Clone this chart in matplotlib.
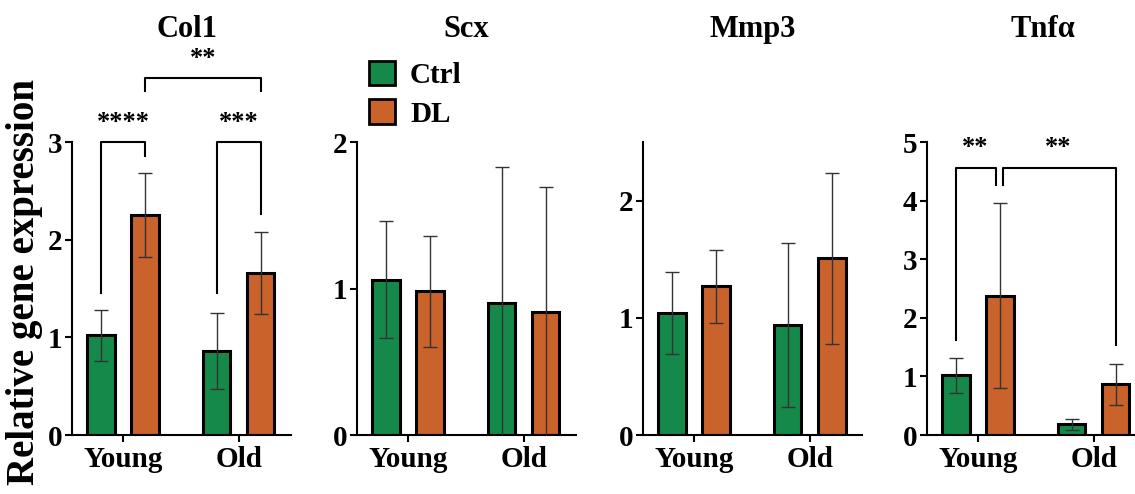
import matplotlib.pyplot as plt
from matplotlib.patches import Patch

plt.rcParams['font.family'] = ['Liberation Serif', 'DejaVu Serif']
plt.rcParams['font.weight'] = 'bold'

genes = ['Col1', 'Scx', 'Mmp3', 'Tnfα']
groups = ['Young', 'Old']

# mean / sd per gene, order: [Young, Old]
ctrl_mean = {'Col1': [1.02, 0.86], 'Scx': [1.06, 0.90], 'Mmp3': [1.04, 0.94], 'Tnfα': [1.02, 0.18]}
ctrl_sd = {'Col1': [0.26, 0.39], 'Scx': [0.40, 0.93], 'Mmp3': [0.35, 0.70], 'Tnfα': [0.30, 0.10]}
dl_mean = {'Col1': [2.25, 1.66], 'Scx': [0.98, 0.84], 'Mmp3': [1.27, 1.51], 'Tnfα': [2.38, 0.87]}
dl_sd = {'Col1': [0.43, 0.42], 'Scx': [0.38, 0.85], 'Mmp3': [0.31, 0.73], 'Tnfα': [1.58, 0.35]}

ylims = {'Col1': 3, 'Scx': 2, 'Mmp3': 2.5, 'Tnfα': 5}
yticks = {'Col1': [0, 1, 2, 3], 'Scx': [0, 1, 2], 'Mmp3': [0, 1, 2], 'Tnfα': [0, 1, 2, 3, 4, 5]}

green = '#14894a'
orange = '#c9622b'

fig = plt.figure(figsize=(11.35, 4.94), dpi=100)
lefts = [0.0634, 0.3145, 0.5665, 0.8167]
title_x = [0.165, 0.411, 0.663, 0.919]
off, w = 0.19, 0.235
xs = [0, 1]

axes = []
for i, g in enumerate(genes):
    ax = fig.add_axes([lefts[i], 0.1194, 0.193, 0.593])
    axes.append(ax)
    ax.bar([x - off for x in xs], ctrl_mean[g], width=w, color=green, edgecolor='black', linewidth=2.2, zorder=2)
    ax.bar([x + off for x in xs], dl_mean[g], width=w, color=orange, edgecolor='black', linewidth=2.2, zorder=2)
    ax.errorbar([x - off for x in xs], ctrl_mean[g], yerr=ctrl_sd[g], fmt='none', ecolor='#333333',
                elinewidth=1.0, capsize=5, capthick=1.0, zorder=3)
    ax.errorbar([x + off for x in xs], dl_mean[g], yerr=dl_sd[g], fmt='none', ecolor='#333333',
                elinewidth=1.0, capsize=5, capthick=1.0, zorder=3)
    ax.set_xlim(-0.44, 1.45)
    ax.set_ylim(0, ylims[g])
    ax.set_yticks(yticks[g])
    ax.set_xticks(xs)
    ax.set_xticklabels(groups)
    for s in ['top', 'right']:
        ax.spines[s].set_visible(False)
    ax.spines['left'].set_linewidth(1.5)
    ax.spines['bottom'].set_linewidth(1.5)
    ax.tick_params(axis='both', labelsize=21, width=1.5, length=5, pad=3)
    ax.tick_params(axis='y', pad=2)
    fig.text(title_x[i], 0.94, g, ha='center', va='center', fontsize=22, fontweight='bold')


def bracket(ax, x1, x2, y1, y2, top, text=None, tx=None, ty=None):
    ax.plot([x1, x1, x2, x2], [y1, top, top, y2], color='black', lw=1.5, clip_on=False, zorder=4)
    if text:
        ax.text(tx if tx is not None else (x1 + x2) / 2, ty, text, ha='center', va='center',
                fontsize=19, fontweight='bold')


ax = axes[0]
bracket(ax, -off, off, 1.45, 2.86, 3.0, '****', ty=3.2)
bracket(ax, 1 - off, 1 + off, 1.45, 2.26, 3.0, '***', ty=3.2)
bracket(ax, off, 1 + off, 3.52, 3.52, 3.66, '**', ty=3.86)

ax = axes[3]
bracket(ax, -off, off - 0.03, 1.62, 4.27, 4.55, '**', tx=-0.02, ty=4.9)
bracket(ax, off + 0.03, 1 + off, 4.27, 1.54, 4.55, '**', tx=0.69, ty=4.9)

fig.text(0.022, 0.43, 'Relative gene expression', rotation=90, ha='center', va='center',
         fontsize=28, fontweight='bold')

handles = [Patch(facecolor=green, edgecolor='black', linewidth=2.0, label='Ctrl'),
           Patch(facecolor=orange, edgecolor='black', linewidth=2.0, label='DL')]
fig.legend(handles=handles, loc='upper left', bbox_to_anchor=(0.315, 0.9), frameon=False,
           fontsize=21, handlelength=0.9, handleheight=0.9, handletextpad=0.5, labelspacing=0.35,
           borderaxespad=0)

fig.savefig('out.png', dpi=100)
